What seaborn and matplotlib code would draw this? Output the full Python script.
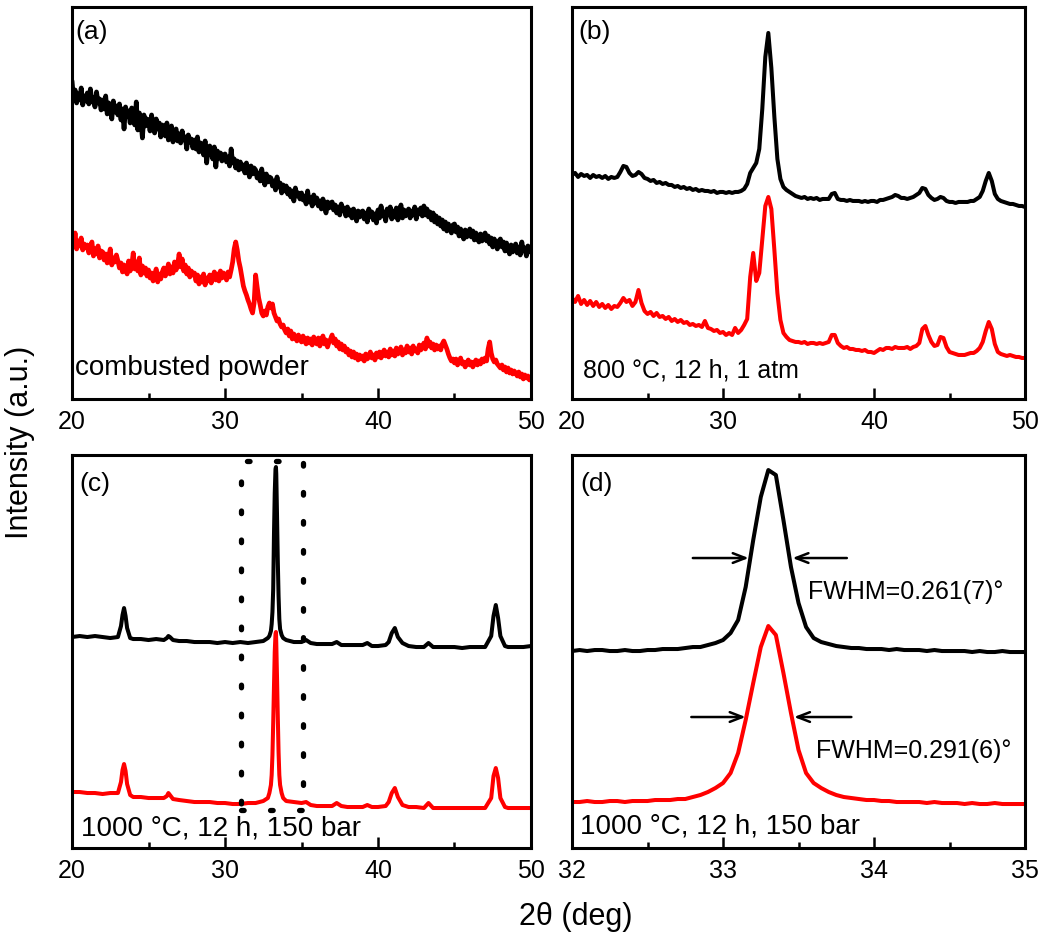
import numpy as np
import matplotlib
matplotlib.use("Agg")
import matplotlib.pyplot as plt
from matplotlib.ticker import MultipleLocator
import seaborn as sns

# ---- data (heights, arbitrary units) ----
# (a) combusted powder, 2theta 20..50 every 0.1 deg
a_black = [
    318, 300, 309, 296, 305, 299, 311, 294, 303, 298,
    306, 295, 310, 297, 301, 292, 307, 296, 300, 289,
    299, 290, 303, 285, 296, 291, 280, 298, 287, 293,
    284, 295, 279, 290, 270, 292, 283, 288, 276, 291,
    280, 274, 297, 269, 286, 278, 261, 284, 273, 280,
    279, 268, 284, 272, 266, 280, 270, 276, 262, 274,
    272, 263, 276, 259, 268, 273, 257, 266, 270, 258,
    265, 256, 268, 259, 262, 250, 264, 257, 260, 251,
    259, 250, 262, 247, 256, 252, 244, 258, 236, 251,
    253, 245, 240, 252, 232, 248, 241, 246, 238, 244,
    245, 237, 242, 233, 250, 236, 240, 231, 238, 229,
    237, 230, 234, 226, 236, 229, 222, 233, 225, 231,
    229, 221, 226, 218, 230, 220, 214, 225, 217, 222,
    221, 213, 218, 209, 222, 212, 216, 206, 214, 208,
    213, 205, 210, 202, 208, 198, 211, 203, 206, 200,
    206, 199, 203, 195, 208, 197, 201, 193, 204, 196,
    201, 193, 198, 190, 200, 194, 186, 197, 191, 196,
    197, 189, 194, 186, 192, 184, 195, 188, 191, 183,
    192, 184, 189, 181, 190, 185, 178, 188, 182, 187,
    188, 180, 186, 177, 190, 182, 187, 179, 185, 176,
    189, 181, 193, 183, 187, 178, 190, 184, 192, 180,
    188, 182, 191, 179, 186, 194, 181, 189, 183, 187,
    190, 181, 188, 184, 192, 180, 189, 185, 191, 183,
    193, 184, 190, 182, 187, 179, 186, 177, 183, 175,
    181, 173, 179, 170, 177, 168, 175, 171, 166, 174,
    175, 167, 172, 163, 170, 165, 160, 169, 162, 166,
    170, 162, 168, 159, 166, 161, 157, 165, 158, 163,
    166, 158, 163, 155, 161, 152, 160, 156, 150, 158,
    160, 152, 157, 148, 156, 150, 145, 154, 147, 152,
    155, 146, 152, 144, 157, 148, 151, 143, 153, 147,
    150,
]
a_red = [
    160, 152, 166, 150, 158, 153, 161, 149, 155, 151,
    154, 146, 152, 157, 143, 150, 145, 153, 141, 148,
    147, 139, 145, 136, 143, 150, 134, 141, 137, 144,
    138, 131, 136, 127, 134, 130, 125, 138, 128, 133,
    146, 130, 137, 128, 141, 124, 133, 126, 131, 123,
    129, 121, 126, 118, 124, 130, 117, 125, 120, 127,
    131, 123, 128, 135, 125, 132, 126, 137, 129, 134,
    145, 132, 140, 128, 134, 125, 131, 122, 128, 124,
    126, 118, 124, 115, 122, 117, 125, 114, 121, 118,
    124, 116, 122, 127, 119, 125, 118, 128, 121, 126,
    124, 119, 127, 122, 129, 137, 150, 157, 149, 138,
    131, 122, 113, 108, 104, 99, 95, 90, 86, 96,
    124, 112, 101, 94, 86, 83, 88, 84, 92, 96,
    91, 95, 86, 82, 78, 80, 75, 72, 74, 69,
    66, 70, 63, 68, 60, 65, 62, 58, 64, 60,
    57, 63, 59, 55, 61, 56, 60, 54, 62, 57,
    55, 61, 53, 58, 63, 55, 59, 52, 57, 60,
    64, 56, 60, 53, 57, 50, 55, 49, 53, 47,
    50, 44, 48, 42, 47, 41, 45, 39, 44, 40,
    43, 38, 45, 40, 42, 47, 41, 44, 39, 46,
    42, 47, 41, 45, 49, 43, 47, 42, 50, 44,
    48, 43, 51, 45, 47, 52, 44, 49, 46, 53,
    47, 51, 45, 53, 48, 50, 46, 54, 49, 52,
    56, 50, 61, 53, 57, 51, 55, 49, 54, 50,
    53, 49, 55, 58, 54, 50, 45, 41, 38, 40,
    36, 40, 34, 38, 41, 35, 37, 32, 36, 39,
    34, 37, 32, 36, 39, 34, 38, 35, 40, 37,
    41, 38, 50, 57, 46, 40, 37, 39, 35, 33,
    31, 34, 29, 32, 27, 31, 26, 29, 25, 28,
    26, 23, 27, 22, 25, 20, 24, 21, 23, 19,
    20,
]

# (b) 800 C, 12 h, 1 atm, 2theta 20..50 every 0.2 deg
b_black = [
    224, 226, 222, 225, 223,
    224, 221, 224, 222, 223,
    221, 223, 220, 222, 221,
    222, 227, 233, 232, 226,
    223, 224, 227, 225, 221,
    220, 218, 219, 216, 217,
    215, 216, 214, 214, 212,
    213, 211, 212, 210, 211,
    209, 210, 208, 209, 208,
    208, 207, 208, 206, 207,
    207, 206, 207, 206, 207,
    207, 208, 210, 215, 226,
    231, 236, 250, 290, 342,
    366, 331, 282, 240, 220,
    212, 209, 207, 205, 203,
    202, 201, 202, 200, 201,
    200, 201, 199, 200, 200,
    200, 205, 206, 200, 199,
    199, 198, 199, 198, 198,
    198, 197, 198, 197, 198,
    198, 197, 199, 199, 200,
    201, 202, 204, 203, 201,
    201, 200, 201, 202, 204,
    206, 211, 210, 204, 201,
    199, 200, 202, 201, 198,
    197, 197, 196, 197, 197,
    197, 197, 198, 198, 200,
    202, 208, 218, 226, 218,
    205, 200, 198, 197, 196,
    195, 195, 194, 193, 193,
    192,
]
b_red = [
    101, 97, 103, 95, 99,
    94, 98, 93, 97, 92,
    95, 91, 94, 90, 93,
    92, 96, 101, 97, 99,
    93, 97, 109, 96, 88,
    85, 87, 83, 86, 82,
    83, 80, 82, 78, 80,
    77, 79, 76, 77, 74,
    75, 73, 74, 72, 78,
    71, 70, 68, 69, 66,
    67, 64, 66, 64, 71,
    66, 69, 74, 80, 122,
    146, 118, 126, 160, 193,
    202, 190, 149, 106, 79,
    66, 62, 59, 58, 57,
    57, 56, 57, 55, 56,
    56, 55, 56, 55, 56,
    57, 64, 64, 56, 53,
    51, 52, 50, 50, 49,
    49, 48, 49, 47, 47,
    46, 48, 50, 49, 51,
    51, 50, 52, 51, 51,
    51, 52, 50, 52, 53,
    56, 70, 73, 64, 57,
    53, 54, 62, 61, 52,
    47, 46, 45, 44, 44,
    44, 45, 46, 46, 48,
    51, 57, 68, 77, 70,
    55, 47, 45, 44, 43,
    44, 43, 42, 42, 41,
    41,
]

# (c) 1000 C, 12 h, 150 bar
c_theta = [20, 20.5, 21, 21.5, 22, 22.5, 23, 23.2, 23.3, 23.4, 23.5, 23.6, 23.8,
           24, 24.5, 25, 25.5, 26, 26.2, 26.3, 26.4, 26.6, 27, 27.5, 28, 28.5,
           29, 29.5, 30, 30.5, 31, 31.5, 32, 32.5, 32.8, 32.9, 33.0, 33.05, 33.1,
           33.15, 33.2, 33.25, 33.3, 33.33, 33.35, 33.4, 33.45, 33.5, 33.55, 33.6,
           33.7, 33.8, 34, 34.5, 35, 35.3, 35.6, 36, 36.5, 37, 37.3, 37.6, 38,
           38.5, 39, 39.3, 39.6, 40, 40.5, 40.7, 40.9, 41.1, 41.3, 41.6, 42, 42.5,
           43, 43.3, 43.6, 44, 44.5, 45, 45.5, 46, 46.5, 47, 47.4, 47.55, 47.7,
           47.85, 48.0, 48.3, 48.5, 49, 49.5, 50]
c_black = [211, 212, 211, 212, 211, 210, 211, 222, 233, 240, 232, 220, 210,
           209, 209, 208, 209, 208, 210, 212, 211, 208, 207, 207, 206, 206,
           206, 205, 206, 205, 206, 205, 206, 207, 210, 212, 217, 224, 236,
           259, 313, 355, 379, 381, 374, 332, 287, 252, 229, 219,
           213, 210, 208, 206, 206, 208, 205, 204, 204, 204, 206, 203, 203,
           203, 203, 205, 202, 202, 203, 206, 215, 220, 211, 205, 202, 201,
           201, 205, 201, 201, 201, 201, 200, 201, 201, 201, 212, 232, 243,
           230, 212, 202, 201, 201, 201, 202]
c_red = [56, 56, 55, 55, 54, 55, 55, 66, 78, 84, 77, 64, 53,
         51, 51, 50, 50, 50, 52, 55, 53, 49, 48, 47, 46, 46,
         46, 45, 45, 44, 44, 45, 45, 47, 50, 55, 63, 73, 93,
         125, 161, 196, 214, 216, 205, 170, 131, 96, 73, 63,
         55, 50, 47, 46, 45, 46, 43, 42, 42, 42, 45, 42, 41,
         41, 41, 43, 41, 41, 42, 46, 55, 60, 51, 43, 41, 41,
         40, 45, 40, 40, 40, 40, 40, 40, 40, 40, 50, 72, 80,
         70, 50, 41, 40, 40, 40, 40]

# (d) zoom on the main reflection, 2theta 32..35 every 0.05 deg
d_black = [197, 198, 197, 198, 198, 197, 197, 198, 197, 197,
           198, 198, 199, 199, 199, 200, 201, 201, 203, 205,
           208, 215, 228, 261, 308, 351, 378, 373, 328, 281,
           245, 221, 210, 206, 204, 202, 201, 200, 200, 199,
           199, 199, 198, 199, 198, 198, 198, 197, 198, 197,
           197, 197, 197, 196, 197, 196, 196, 197, 196, 196,
           196]
d_red = [46, 46, 47, 46, 46, 47, 47, 46, 47, 47,
         47, 48, 48, 48, 49, 49, 51, 53, 56, 60,
         65, 75, 95, 128, 165, 201, 222, 213, 175, 135,
         98, 75, 65, 60, 56, 53, 51, 50, 49, 48,
         48, 47, 47, 46, 46, 46, 46, 45, 46, 45,
         45, 45, 44, 45, 44, 44, 45, 44, 44, 44,
         44]

# FWHM markers in (d): (left tail, left head, right head, right tail), height
fwhm_black = (32.80, 33.17, 33.46, 33.82, 290)
fwhm_red = (32.79, 33.15, 33.47, 33.85, 131)
# dotted box in (c) marking the zoomed region
box_theta = (31.05, 35.1)
box_h = (38, 387)

assert len(c_theta) == len(c_black) == len(c_red)

# ---- style ----
sns.set_style("ticks")
plt.rcParams["font.family"] = ["Liberation Sans", "DejaVu Sans"]
plt.rcParams.update({
    "axes.linewidth": 2.2,
    "axes.edgecolor": "black",
    "text.color": "black",
    "axes.labelcolor": "black",
    "xtick.color": "black",
    "ytick.color": "black",
})

fig = plt.figure(figsize=(10.5, 9.39), dpi=100)
ax_a = fig.add_axes([0.0686, 0.5751, 0.4371, 0.4175])
ax_b = fig.add_axes([0.5448, 0.5751, 0.4314, 0.4175])
ax_c = fig.add_axes([0.0686, 0.0969, 0.4371, 0.4185])
ax_d = fig.add_axes([0.5448, 0.0969, 0.4314, 0.4185])


def draw(ax, x, yb, yr, lw=2.9):
    sns.lineplot(x=x, y=yb, color="black", lw=lw, ax=ax, estimator=None, legend=False)
    sns.lineplot(x=x, y=yr, color="#ff0000", lw=lw, ax=ax, estimator=None, legend=False)


def style(ax, xlim, major, minor, ylim):
    ax.set_xlim(*xlim)
    ax.set_ylim(*ylim)
    ax.xaxis.set_major_locator(MultipleLocator(major))
    ax.xaxis.set_minor_locator(MultipleLocator(minor))
    ax.set_yticks([])
    ax.tick_params(axis="x", which="major", direction="in", length=8, width=1.8,
                   labelsize=18, pad=8, colors="black")
    ax.tick_params(axis="x", which="minor", direction="in", length=4.5, width=1.8,
                   colors="black")
    ax.set_xlabel("")
    ax.set_ylabel("")
    for s in ax.spines.values():
        s.set_visible(True)
        s.set_linewidth(2.2)
        s.set_edgecolor("black")


theta_a = np.linspace(20, 50, len(a_black))
draw(ax_a, theta_a, a_black, a_red, lw=3.4)
style(ax_a, (20, 50), 10, 5, (0, 392))

theta_b = np.linspace(20, 50, len(b_black))
draw(ax_b, theta_b, b_black, b_red)
style(ax_b, (20, 50), 10, 5, (0, 392))

draw(ax_c, c_theta, c_black, c_red)
style(ax_c, (20, 50), 10, 5, (0, 393))
ax_c.plot([box_theta[0], box_theta[1], box_theta[1], box_theta[0], box_theta[0]],
          [box_h[0], box_h[0], box_h[1], box_h[1], box_h[0]],
          color="black", lw=3.8, linestyle=(0, (0.5, 5.0)),
          dash_capstyle="round", zorder=5, clip_on=False)

theta_d = np.linspace(32, 35, len(d_black))
draw(ax_d, theta_d, d_black, d_red)
style(ax_d, (32, 35), 1, 0.5, (0, 393))

for f in (fwhm_black, fwhm_red):
    for tail, head in ((f[0], f[1]), (f[3], f[2])):
        ax_d.annotate("", xy=(head, f[4]), xytext=(tail, f[4]),
                      arrowprops=dict(arrowstyle="->,head_length=0.9,head_width=0.35",
                                      color="black", lw=1.8, shrinkA=0, shrinkB=0))
ax_d.text(33.565, 256, "FWHM=0.261(7)\u00b0", fontsize=18, va="center", ha="left")
ax_d.text(33.615, 97, "FWHM=0.291(6)\u00b0", fontsize=18, va="center", ha="left")

# panel labels and conditions
ax_a.text(0.007, 0.967, "(a)", transform=ax_a.transAxes, fontsize=19, va="top", ha="left")
ax_b.text(0.013, 0.967, "(b)", transform=ax_b.transAxes, fontsize=19, va="top", ha="left")
ax_c.text(0.015, 0.957, "(c)", transform=ax_c.transAxes, fontsize=19, va="top", ha="left")
ax_d.text(0.018, 0.957, "(d)", transform=ax_d.transAxes, fontsize=19, va="top", ha="left")

ax_a.text(0.007, 0.061, "combusted powder", transform=ax_a.transAxes, fontsize=20,
          va="baseline", ha="left")
ax_b.text(0.024, 0.056, "800 \u00b0C, 12 h, 1 atm", transform=ax_b.transAxes, fontsize=18,
          va="baseline", ha="left")
ax_c.text(0.02, 0.033, "1000 \u00b0C, 12 h, 150 bar", transform=ax_c.transAxes, fontsize=20,
          va="baseline", ha="left")
ax_d.text(0.018, 0.038, "1000 \u00b0C, 12 h, 150 bar", transform=ax_d.transAxes, fontsize=20,
          va="baseline", ha="left")

fig.text(0.019, 0.529, "Intensity (a.u.)", rotation=90, fontsize=22, va="center", ha="center")
fig.text(0.548, 0.0234, "2\u03b8 (deg)", fontsize=22, va="center", ha="center")

fig.savefig("out.png", dpi=100)
